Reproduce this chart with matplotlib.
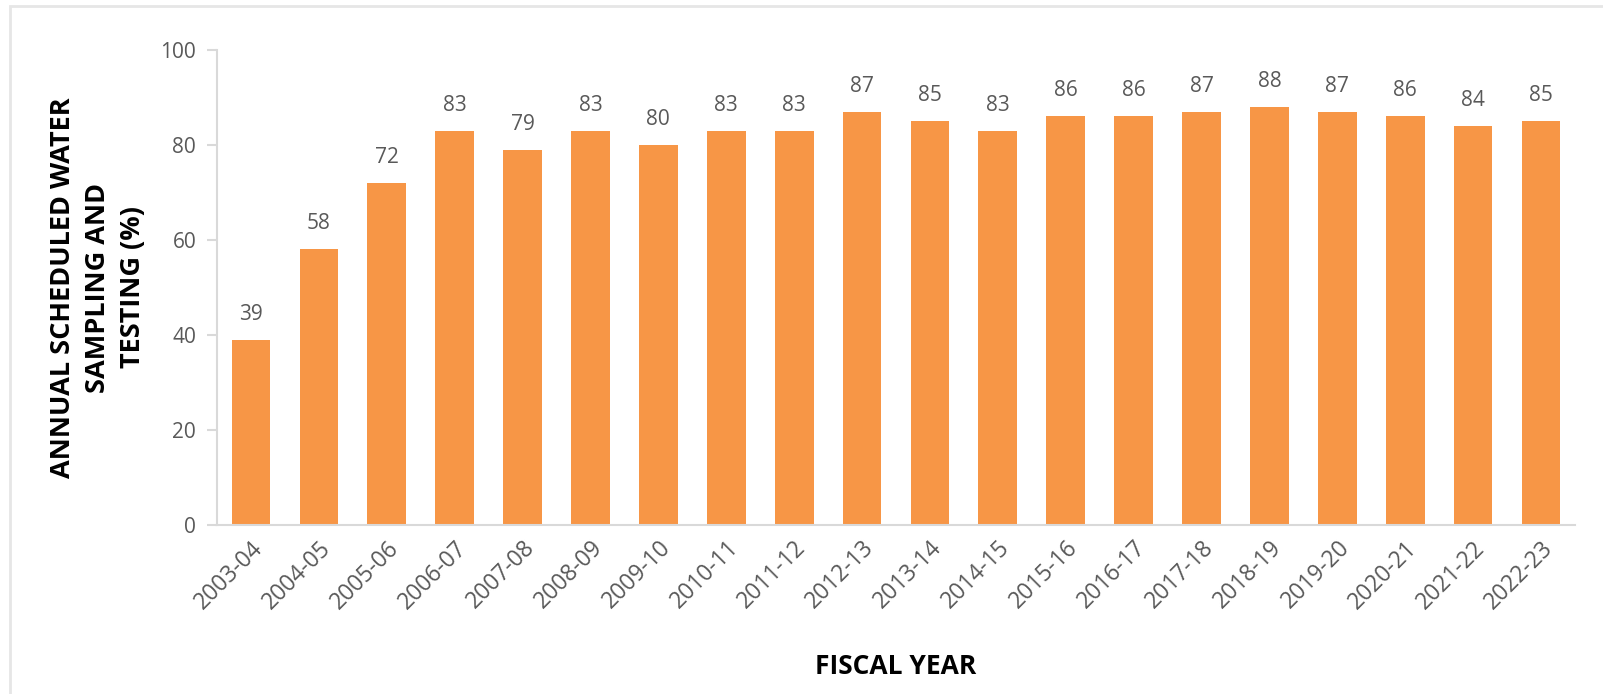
import matplotlib
matplotlib.use("Agg")
import matplotlib.pyplot as plt
from matplotlib.patches import Rectangle

# data
years = ["2003-04", "2004-05", "2005-06", "2006-07", "2007-08", "2008-09", "2009-10",
         "2010-11", "2011-12", "2012-13", "2013-14", "2014-15", "2015-16", "2016-17",
         "2017-18", "2018-19", "2019-20", "2020-21", "2021-22", "2022-23"]
pct = [39, 58, 72, 83, 79, 83, 80, 83, 83, 87, 85, 83, 86, 86, 87, 88, 87, 86, 84, 85]
yticks = [0, 20, 40, 60, 80, 100]

plt.rcParams['font.family'] = ['Open Sans', 'DejaVu Sans']

fig = plt.figure(figsize=(16.03, 6.94), dpi=100)
ax = fig.add_axes([0.1354, 0.2435, 0.8471, 0.6845])

x = range(len(years))
bars = ax.bar(x, pct, width=0.57, color='#F79646')
for b, v in zip(bars, pct):
    ax.text(b.get_x() + b.get_width() / 2, v + 3.2, str(v), ha='center', va='bottom',
            fontsize=15, color='#595959')

ax.set_xlim(-0.5, len(years) - 0.5)
ax.set_ylim(0, 100)
ax.set_yticks(yticks)
ax.set_xticks(list(x))
ax.set_xticklabels(years, rotation=45, ha='right', rotation_mode='anchor')

for s in ['top', 'right']:
    ax.spines[s].set_visible(False)
for s in ['left', 'bottom']:
    ax.spines[s].set_color('#d9d9d9')
    ax.spines[s].set_linewidth(1.5)
ax.tick_params(axis='y', colors='#d9d9d9', labelcolor='#595959', labelsize=15,
               length=7, width=1.5, pad=8)
ax.tick_params(axis='x', length=0, labelcolor='#595959', labelsize=16.5, pad=8)

ax.set_xlabel("FISCAL YEAR", fontsize=19, fontweight='bold', color='black')
ax.xaxis.set_label_coords(0.5, -0.27)
ax.set_ylabel("ANNUAL SCHEDULED WATER\nSAMPLING AND\nTESTING (%)", fontsize=19.5,
              fontweight='bold', color='black', linespacing=1.45)
ax.yaxis.set_label_coords(-0.052, 0.5)

# light outer border
fig.patches.append(Rectangle((10 / 1603, -0.1), 1.2, 1 - 6 / 694 + 0.1,
                             transform=fig.transFigure, fill=False,
                             edgecolor='#e6e6e6', linewidth=2))

fig.savefig("out.png", dpi=100)
